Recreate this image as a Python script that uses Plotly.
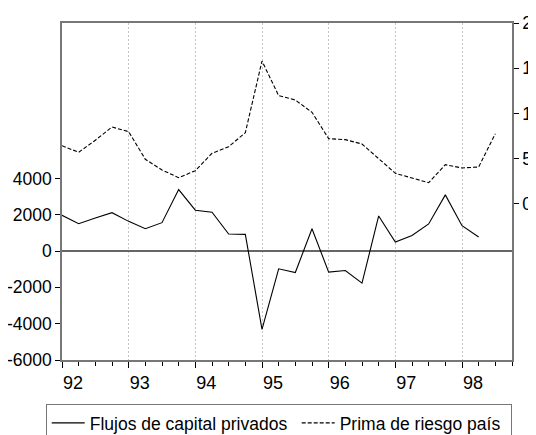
import plotly.graph_objects as go

# Quarterly data, 1992Q1 onward
start_year = 1992
flujos = [1970, 1508, 1820, 2116, 1635, 1232, 1564, 3387, 2250, 2140, 939, 917,
          -4309, -978, -1182, 1232, -1160, -1072, -1768, 1934, 497, 862, 1492, 3094,
          1398, 773]
prima = [6.44, 5.71, 7.05, 8.51, 7.99, 4.94, 3.76, 2.91, 3.68, 5.6, 6.33, 7.88,
         15.8, 11.97, 11.49, 10.13, 7.22, 7.11, 6.63, 5.0, 3.39, 2.87, 2.35, 4.34,
         3.98, 4.09, 7.77]
year_ticks = [1992, 1993, 1994, 1995, 1996, 1997, 1998]
year_labels = ["92", "93", "94", "95", "96", "97", "98"]
left_ticks = [-6000, -4000, -2000, 0, 2000, 4000]
left_labels = ["-6000", "-4000", "-2000", "0", "2000", "4000"]
right_ticks = [0, 5, 10, 15, 20]
right_labels = ["0", "5", "10", "15", "20"]

x_f = [start_year + i / 4 for i in range(len(flujos))]
x_p = [start_year + i / 4 for i in range(len(prima))]

FONT = "Liberation Sans, Arial, sans-serif"
FRAME = "#777777"

# page body has an 8px margin; the figure is sized so it ends at the window edge
W, H = 528, 427
L, R, T, B = 54, 24, 15, 75
PW, PH = W - L - R, H - T - B

fig = go.Figure()
fig.add_trace(go.Scatter(x=x_f, y=flujos, mode="lines", name="Flujos de capital privados",
                         line=dict(color="black", width=1.1), yaxis="y",
                         legendwidth=202))
fig.add_trace(go.Scatter(x=x_p, y=prima, mode="lines", name="Prima de riesgo país",
                         line=dict(color="black", width=1.1, dash="4px,2px"), yaxis="y2",
                         legendwidth=166))

fig.update_layout(
    width=W, height=H,
    margin=dict(l=L, r=R, t=T, b=B, autoexpand=False),
    paper_bgcolor="white", plot_bgcolor="white",
    font=dict(family=FONT, size=18, color="black"),
    showlegend=True,
    legend=dict(orientation="h", x=-16.3 / PW, xanchor="left",
                y=-44 / PH, yanchor="top",
                bordercolor=FRAME, borderwidth=1, bgcolor="white",
                font=dict(size=17.5, family=FONT), itemwidth=33),
    xaxis=dict(range=[1992, 1998.75], tickvals=year_ticks, ticktext=year_labels,
               ticks="outside", ticklen=6, tickcolor="black", tickwidth=1,
               minor=dict(dtick=0.25, tick0=1992, ticks="outside", ticklen=4,
                          tickcolor="black", showgrid=False),
               showline=True, linecolor=FRAME, linewidth=1.5, mirror=True,
               showgrid=True, gridcolor="#c4c4c4", griddash="2px,2px", gridwidth=1,
               zeroline=False, ticklabelshift=11, automargin=False, fixedrange=True),
    yaxis=dict(range=[-6000, 12560], tickvals=left_ticks, ticktext=left_labels,
               tickfont=dict(size=17.5),
               ticks="outside", ticklen=5, tickcolor="black",
               showline=True, linecolor=FRAME, linewidth=1.5, automargin=False,
               showgrid=False, zeroline=True, zerolinecolor="#666666", zerolinewidth=1.5),
    yaxis2=dict(range=[-17.24, 20], tickvals=right_ticks, ticktext=right_labels,
                overlaying="y", side="right", tickfont=dict(size=17.5),
                ticks="outside", ticklen=5, tickcolor="black", automargin=False,
                showline=True, linecolor=FRAME, linewidth=1.5,
                showgrid=False, zeroline=False),
)

fig.write_html("out.html")
